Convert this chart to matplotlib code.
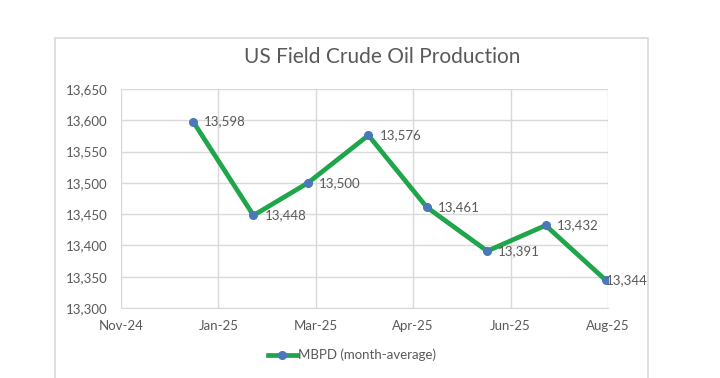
import matplotlib.pyplot as plt
import matplotlib.dates as mdates
import numpy as np
from matplotlib.lines import Line2D
from matplotlib.patches import Rectangle

# Data (month-average production, thousand barrels per day)
months = ['2024-12-31', '2025-01-31', '2025-02-28', '2025-03-31',
          '2025-04-30', '2025-05-31', '2025-06-30', '2025-07-31']
mbpd = [13598, 13448, 13500, 13576, 13461, 13391, 13432, 13344]
dates = np.array(months, dtype='datetime64[D]')

# Axis settings (Excel date axis, 50 day major unit)
x_start = np.datetime64('2024-11-24')
x_end = np.datetime64('2025-08-01')
y_ticks = list(range(13300, 13651, 50))

grey_text = '#595959'
grid_col = '#d9d9d9'
line_col = '#1fa54a'
marker_col = '#4a78b8'

plt.rcParams['font.family'] = ['Lato', 'DejaVu Sans']

fig = plt.figure(figsize=(7.2, 3.78), dpi=100)
ax = fig.add_axes([121 / 720, 1 - 308 / 378, 487 / 720, 219 / 378])

# outer chart border (runs off the bottom of the picture)
fig.patches.append(Rectangle((55 / 720, -0.1), 593 / 720, 1.1 - 38 / 378,
                             transform=fig.transFigure, fill=False,
                             edgecolor=grid_col, linewidth=1.2))

ax.plot(dates, mbpd, color=line_col, linewidth=3.4, solid_joinstyle='round',
        marker='o', markersize=5.5, markerfacecolor=marker_col,
        markeredgecolor=marker_col, zorder=3)

# Excel pushes the last label back inside the plot area
offsets = [8, 8, 8, 8, 8, 8, 8, 0]
for d, v, off in zip(dates, mbpd, offsets):
    ax.annotate(f'{v:,}', (d, v), xytext=(off, 0), textcoords='offset points',
                ha='left', va='center', fontsize=9.5, color=grey_text, zorder=4)

x_ticks = [x_start + np.timedelta64(50 * i, 'D') for i in range(6)]
ax.set_xlim(x_start, x_end)
ax.set_xticks(x_ticks)
ax.xaxis.set_major_formatter(mdates.DateFormatter('%b-%y'))
ax.set_ylim(13300, 13650)
ax.set_yticks(y_ticks)
ax.set_yticklabels([f'{t:,}' for t in y_ticks])

ax.grid(True, color=grid_col, linewidth=1)
ax.set_axisbelow(True)
for s in ['top', 'right', 'left']:
    ax.spines[s].set_visible(False)
ax.spines['bottom'].set_color(grid_col)
ax.tick_params(length=0, labelsize=9.5, labelcolor=grey_text)
ax.tick_params(axis='x', pad=9)
ax.tick_params(axis='y', pad=10)

fig.text(382 / 720, 1 - 57 / 378, 'US Field Crude Oil Production',
         ha='center', va='center', fontsize=15, color=grey_text)

handle = Line2D([], [], color=line_col, linewidth=3.4, marker='o',
                markersize=5.5, markerfacecolor=marker_col,
                markeredgecolor=marker_col)
fig.legend([handle], ['MBPD (month-average)'], loc='center',
           bbox_to_anchor=(352 / 720, 1 - 355 / 378), frameon=False,
           fontsize=9.5, labelcolor=grey_text, handlelength=2.2,
           handletextpad=0.1)

fig.savefig('out.png', dpi=100)
